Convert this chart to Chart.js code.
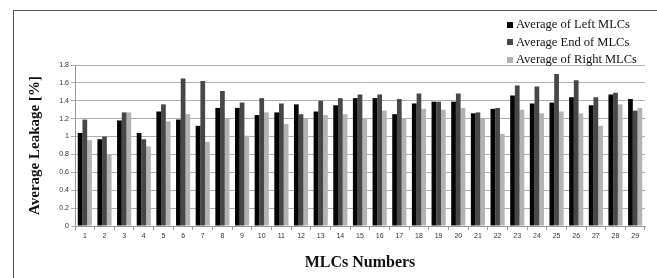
<!DOCTYPE html>
<html>
<head>
<meta charset="utf-8">
<script src="https://cdn.jsdelivr.net/npm/chart.js@4.4.0/dist/chart.umd.min.js"></script>
<style>
  html, body { margin: 0; padding: 0; background: #fff; overflow: hidden; }
  #wrap { position: relative; width: 657px; height: 278px; overflow: hidden; }
  #frame { position: absolute; left: 13px; top: 10px; width: 700px; height: 300px;
           border-left: 1px solid #555; border-top: 1px solid #555; }
  #myChart { position: absolute; left: 0; top: 0; }
  #legend { position: absolute; left: 507px; top: 16px; font-family: "Liberation Serif", serif;
            font-size: 12.5px; color: #111; }
  .legend-item { display: flex; align-items: center; height: 17.5px; white-space: nowrap; }
  .legend-box { width: 6px; height: 6px; margin-right: 3px; }
</style>
</head>
<body>
<div id="wrap">
  <div id="frame"></div>
  <canvas id="myChart" width="657" height="278"></canvas>
  <div id="legend"></div>
</div>
<script>
// categories (MLC numbers)
const categories = ["1","2","3","4","5","6","7","8","9","10","11","12","13","14","15",
  "16","17","18","19","20","21","22","23","24","25","26","27","28","29"];

// series values
const leftMLCs = [1.04, 0.97, 1.18, 1.04, 1.28, 1.19, 1.12, 1.32, 1.32, 1.24, 1.27, 1.36, 1.28, 1.35, 1.43,
  1.43, 1.25, 1.37, 1.39, 1.39, 1.26, 1.31, 1.46, 1.37, 1.38, 1.44, 1.35, 1.47, 1.42];
const endMLCs = [1.19, 1.00, 1.27, 0.97, 1.36, 1.65, 1.62, 1.51, 1.38, 1.43, 1.37, 1.25, 1.40, 1.43, 1.47,
  1.47, 1.42, 1.48, 1.39, 1.48, 1.27, 1.32, 1.57, 1.56, 1.70, 1.63, 1.44, 1.49, 1.29];
const rightMLCs = [0.96, 0.80, 1.27, 0.89, 1.17, 1.25, 0.94, 1.20, 1.01, 1.27, 1.14, 1.20, 1.24, 1.25, 1.20,
  1.29, 1.20, 1.31, 1.30, 1.32, 1.20, 1.03, 1.30, 1.26, 1.28, 1.26, 1.12, 1.36, 1.32];

const seriesNames = ["Average of Left MLCs", "Average End of MLCs", "Average of Right MLCs"];
const seriesColors = ["#050505", "#474747", "#b3b3b3"];

// y tick labels
const yTickLabels = ["0", "0.2", "0.4", "0.6", "0.8", "1", "1.2", "1.4", "1.6", "1.8"];

const seriesData = [leftMLCs, endMLCs, rightMLCs];
const datasets = seriesNames.map((name, i) => ({
  label: name,
  data: seriesData[i],
  backgroundColor: seriesColors[i],
  borderWidth: 0,
  barPercentage: 1,
  categoryPercentage: 0.72,
}));

//legend
const legend = document.getElementById("legend");
seriesNames.forEach((name, i) => {
  const item = document.createElement("div");
  item.classList.add("legend-item");
  const box = document.createElement("span");
  box.classList.add("legend-box");
  box.style.background = seriesColors[i];
  const txt = document.createElement("span");
  txt.textContent = name;
  item.append(box, txt);
  legend.append(item);
});

const tickFont = { family: "Liberation Sans", size: 7 };
const ctx = document.getElementById("myChart");
const myChart = new Chart(ctx, {
  type: "bar",
  data: { labels: categories, datasets },
  options: {
    responsive: false,
    animation: false,
    layout: { padding: { left: 26, right: 12, top: 65, bottom: 6 } },
    plugins: { legend: { display: false }, tooltip: { enabled: false } },
    scales: {
      x: {
        afterFit: (scale) => { scale.height = 46; },
        grid: { drawOnChartArea: false, drawTicks: true, tickLength: 4, color: "#999" },
        border: { color: "#999" },
        ticks: { font: tickFont, color: "#333", padding: 2, maxRotation: 0, autoSkip: false },
        title: {
          display: true,
          text: "MLCs Numbers",
          font: { family: "Liberation Serif", size: 16, weight: "bold" },
          color: "#111",
          padding: { top: 0, bottom: 0 },
        },
      },
      y: {
        min: 0,
        max: 1.8,
        afterFit: (scale) => { scale.width = 49; },
        grid: { color: "#b0b0b0", tickLength: 4 },
        border: { color: "#999" },
        ticks: {
          stepSize: 0.2,
          font: tickFont,
          color: "#333",
          padding: 2,
          callback: (value, index) => yTickLabels[index],
        },
        title: {
          display: true,
          text: "Average Leakage [%]",
          font: { family: "Liberation Serif", size: 15, weight: "bold" },
          color: "#111",
          padding: { top: 0, bottom: 0 },
        },
      },
    },
  },
});
</script>
</body>
</html>
